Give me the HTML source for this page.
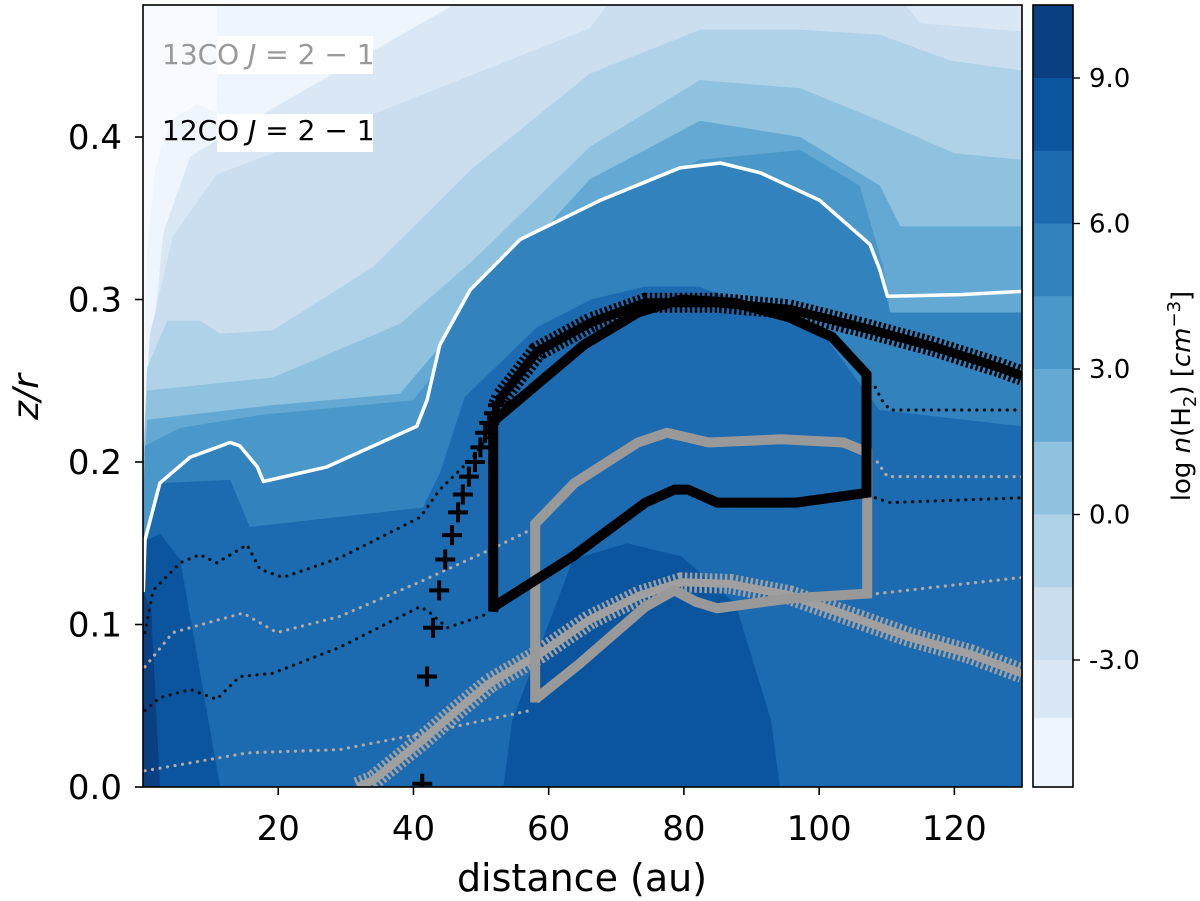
<!DOCTYPE html>
<html><head><meta charset="utf-8"><style>
html,body{margin:0;padding:0;background:#fff;}
svg{display:block;font-family:"DejaVu Sans","Liberation Sans",sans-serif;}
</style></head><body>
<svg id="chart" width="1200" height="901" viewBox="0 0 1200 901">
<defs><clipPath id="pc"><rect x="143" y="5" width="879" height="782"/></clipPath></defs>
<g id="bands" clip-path="url(#pc)"></g>
<g id="lines" clip-path="url(#pc)"></g>
<rect x="143" y="5" width="879" height="782" fill="none" stroke="#000" stroke-width="1.6"/>
<g id="axes"></g>
<rect x="217" y="36" width="156" height="38" fill="#fff"/>
<rect x="217" y="114" width="156" height="38" fill="#fff"/>
<text x="162" y="64" font-size="28" fill="#999">13CO <tspan font-style="italic">J</tspan> = 2 − 1</text>
<text x="162" y="140" font-size="28" fill="#000">12CO <tspan font-style="italic">J</tspan> = 2 − 1</text>
<text x="582" y="891" font-size="38" text-anchor="middle">distance (au)</text>
<text transform="translate(38,397) rotate(-90)" font-size="36" text-anchor="middle" font-style="italic">z/r</text>
<g id="cbar"></g>
<text transform="translate(1190,396) rotate(-90)" font-size="26" text-anchor="middle">log <tspan font-style="italic">n</tspan>(H<tspan font-size="18" dy="6">2</tspan><tspan dy="-6">) [</tspan><tspan font-style="italic">cm</tspan><tspan font-size="18" dy="-10">−3</tspan><tspan dy="10">]</tspan></text>
</svg>
<script>
// ---- data (au, z/r) ----
const xTicks=[20,40,60,80,100,120];
const yTicks=[0.0,0.1,0.2,0.3,0.4];
const cbTicks=[9.0,6.0,3.0,0.0,-3.0];
const cbLevels=[10.5,9,7.5,6,4.5,3,1.5,0,-1.5,-3,-4.2,-5.6];
const bandColors=["#eef5fc","#dae8f6","#cadef0","#b0d2e8","#8fc2de","#64a9d3","#4a98c9","#3282be","#1c6ab0","#0b559f","#0a3f82"];
const level10=[[0,.2],[0.2,.24],[0.6,.33],[1.8,.38],[4.0,.41],[8,.42],[10.9,.415],[11.0,.6],[130,.6]];
const level9=[[0,.2],[0.6,.238],[3.0,.341],[7.0,.388],[10.9,.398],[45.4,.48],[50,.52],[130,.52]];
const level8=[[0,.2],[1.0,.278],[4.4,.339],[10.9,.377],[24.3,.398],[66.1,.467],[72,.5],[109,.5],[115,.47],[130,.465]];
const level7=[[0,.2],[0.6,.258],[3.6,.287],[8.4,.287],[11.4,.279],[19.2,.281],[34.0,.32],[48.8,.381],[66.1,.439],[82.4,.466],[97.2,.466],[109,.463],[119.4,.447],[130,.441]];
const level6=[[0,.2],[0.6,.244],[19.2,.252],[38.0,.285],[48.8,.324],[66.1,.394],[82.4,.435],[97.2,.43],[109,.41],[120,.39],[130,.386]];
const level5=[[0,.18],[0.6,.226],[19.2,.235],[38.0,.242],[48.8,.295],[66.1,.374],[82.4,.41],[97.2,.40],[109,.37],[112,.345],[130,.345]];
const level4=[[0,.17],[0.3,.21],[5.5,.221],[17.3,.229],[39.9,.238],[48.4,.281],[66.1,.352],[82.4,.386],[97.2,.392],[106,.37],[109.5,.32],[110.5,.292],[130,.292]];
const whiteLine=[[0.05,.12],[0.3,.152],[2.5,.187],[7.0,.203],[12.9,.212],[14.3,.21],[16.9,.197],[17.8,.188],[27.2,.197],[40.5,.222],[42.0,.238],[43.9,.272],[48.4,.306],[55.8,.337],[67.6,.361],[79.4,.381],[85.4,.384],[91.3,.378],[100.1,.361],[107.5,.334],[109.0,.318],[110.1,.302],[120.9,.303],[130,.305]];
const level3=[[0,.11],[0.3,.152],[2.5,.187],[7.0,.203],[12.9,.212],[14.3,.21],[16.9,.197],[17.8,.188],[27.2,.197],[40.5,.222],[42.0,.238],[43.9,.272],[48.4,.306],[55.8,.337],[67.6,.361],[79.4,.381],[85.4,.384],[91.3,.378],[100.1,.361],[107.5,.334],[109.0,.318],[110.5,.292],[130,.292]];
const level2=[[0,.12],[0.6,.156],[2.5,.187],[12.9,.189],[15.8,.16],[41.4,.172],[43.9,.193],[47.6,.24],[58.3,.283],[66.3,.30],[74.3,.308],[82.2,.308],[90.2,.295],[100.9,.277],[108.9,.232],[130,.222]];
const lobeLeft=[[0,0],[0,.152],[0.6,.152],[2.5,.156],[5.5,.14],[11.4,0]];
const lobeRight=[[53.3,0],[54.6,.041],[63.6,.14],[71.6,.15],[79.6,.142],[87.6,.113],[92.9,.041],[94.2,0]];
const lobeDark=[[0,0],[0,.12],[1.2,.11],[2.5,0]];
const box12=[[51.8,.108],[51.8,.225],[65.2,.272],[73.2,.292],[79.6,.300],[87.6,.298],[95.6,.289],[101.9,.277],[107.0,.254],[107.0,.181],[96.6,.175],[84.9,.175],[80.6,.183],[78.6,.183],[74.3,.175],[63.6,.142],[51.9,.111]];
const box13=[[58.0,.052],[58.0,.162],[63.8,.187],[73.2,.212],[77.5,.218],[80.6,.215],[83.7,.212],[94.4,.214],[103.6,.212],[107.1,.206],[107.1,.119],[95.6,.116],[84.9,.110],[81.8,.114],[78.6,.121],[74.3,.111],[64.6,.076],[58.0,.054]];
const plus12Sparse=[[41.3,.002],[42.0,.068],[42.9,.098],[43.8,.121],[44.7,.140],[45.7,.155],[46.6,.169],[47.3,.18],[48.2,.191],[49.1,.2],[49.9,.209],[50.6,.218],[51.2,.224],[51.9,.23],[52.5,.235]];
const plus12Band=[[52.5,.235],[53.0,.24],[58.3,.268],[66.3,.286],[74.3,.298],[84.9,.298],[95.6,.294],[106.2,.283],[116.9,.271],[126.8,.258],[130,.253]];
const plus13Band=[[31.7,0],[34.0,.004],[41.4,.029],[46.4,.047],[51.3,.064],[58.7,.082],[66.1,.103],[73.5,.118],[79.6,.126],[86.8,.125],[95.7,.118],[104.6,.105],[113.5,.092],[122.2,.082],[130,.07]];
const dot12a=[[0.3,.095],[1.5,.121],[5.5,.138],[8.4,.143],[10.9,.138],[15.4,.149],[17.3,.134],[20.7,.129],[29.1,.141],[41.0,.166],[43.9,.183],[48.8,.203],[51.8,.22]];
const dot12aR=[[108.3,.246],[109.3,.238],[110.5,.232],[130,.232]];
const dot12b=[[0.3,.047],[2.5,.055],[7.0,.06],[10.9,.054],[14.3,.068],[19.2,.07],[29.1,.086],[41.0,.111],[42.5,.107],[45.0,.098],[51.3,.107]];
const dot12bR=[[108.3,.178],[110.5,.175],[130,.178]];
const dot13a=[[0.3,.074],[4.4,.095],[9.5,.101],[14.8,.107],[19.8,.095],[29.1,.105],[41.4,.127],[51.3,.146],[57.2,.158]];
const dot13aR=[[108.6,.2],[110.1,.191],[130,.191]];
const dot13b=[[0.3,.01],[15.4,.021],[29.1,.023],[41.4,.033],[57.2,.047]];
const dot13bR=[[108.6,.119],[130,.129]];

// ---- scales ----
const X=a=>143+a*6.7615, Y=z=>787-z*1625, CY=v=>78+(9-v)*48.5;
const NS="http://www.w3.org/2000/svg";
function mk(tag,attrs,parent){const e=document.createElementNS(NS,tag);for(const k in attrs)e.setAttribute(k,attrs[k]);parent.appendChild(e);return e;}
const pts=arr=>arr.map(p=>X(p[0]).toFixed(1)+","+Y(p[1]).toFixed(1)).join(" ");
const below=arr=>pts(arr)+" "+X(130)+","+Y(-0.01)+" "+X(0)+","+Y(-0.01);
const bands=document.getElementById("bands"), lines=document.getElementById("lines"), axes=document.getElementById("axes");

let e=mk("rect",{x:143,y:5,width:879,height:782,fill:"#f7fbff"},bands);


const levelCurves=[level10,level9,level8,level7,level6,level5,level4,level3,level2];
levelCurves.forEach((c,i)=>{
  const p=mk("polygon",{points:below(c),fill:bandColors[i]},bands);
  
  
});
[[lobeLeft,9],[lobeRight,9],[lobeDark,10]].forEach(([c,ci],i)=>{
  const p=mk("polygon",{points:pts(c),fill:bandColors[ci]},bands);
  
  
});

[[dot12a,"#111"],[dot12aR,"#111"],[dot12b,"#111"],[dot12bR,"#111"],[dot13a,"#b3aaa2"],[dot13aR,"#b3aaa2"],[dot13b,"#b3aaa2"],[dot13bR,"#b3aaa2"]].forEach(([c,col],i)=>{
  const p=mk("polyline",{points:pts(c),fill:"none",stroke:col,"stroke-width":3.2,"stroke-dasharray":"0.1 7.5","stroke-linecap":"round"},lines);
  
  
});
e=mk("polyline",{points:pts(whiteLine),fill:"none",stroke:"#fff","stroke-width":3.5,"stroke-linejoin":"round"},lines);


e=mk("polyline",{points:pts(plus13Band),fill:"none",stroke:"#a0a0a0","stroke-width":20,"stroke-dasharray":"2.5 2.5"},lines);


e=mk("polyline",{points:pts(plus13Band),fill:"none",stroke:"#a0a0a0","stroke-width":8},lines);


e=mk("polygon",{points:pts(box13),fill:"none",stroke:"#999","stroke-width":10,"stroke-linejoin":"miter"},lines);


e=mk("polyline",{points:pts(plus12Band),fill:"none",stroke:"#000","stroke-width":20,"stroke-dasharray":"2.5 2.5"},lines);


e=mk("polyline",{points:pts(plus12Band),fill:"none",stroke:"#000","stroke-width":9},lines);


plus12Sparse.forEach(p=>{
  const x=X(p[0]),y=Y(p[1]);
  const m=mk("path",{d:`M${x-10},${y}H${x+10}M${x},${y-10}V${y+10}`,stroke:"#000","stroke-width":4,fill:"none"},lines);
  
  
});
e=mk("polygon",{points:pts(box12),fill:"none",stroke:"#000","stroke-width":10,"stroke-linejoin":"miter"},lines);



xTicks.forEach(v=>{
  const t=mk("line",{x1:X(v),x2:X(v),y1:787,y2:795,stroke:"#000","stroke-width":1.6},axes);
  
  
  const l=mk("text",{x:X(v),y:840,"font-size":34,"text-anchor":"middle"},axes);
  l.textContent=v;
  
  
});
yTicks.forEach(v=>{
  const t=mk("line",{x1:135,x2:143,y1:Y(v),y2:Y(v),stroke:"#000","stroke-width":1.6},axes);
  
  
  const l=mk("text",{x:122,y:Y(v)+12,"font-size":34,"text-anchor":"end"},axes);
  l.textContent=v.toFixed(1);
  
  
});
const cb=document.getElementById("cbar");
for(let i=0;i<cbLevels.length-1;i++){
  const y1=Math.max(5,CY(cbLevels[i])), y2=Math.min(787,CY(cbLevels[i+1]));
  const r=mk("rect",{x:1033,y:y1,width:40,height:y2-y1+0.5,fill:bandColors[10-i]},cb);
  
  
}
e=mk("rect",{x:1033,y:5,width:40,height:782,fill:"none",stroke:"#000","stroke-width":1.6},cb);


cbTicks.forEach(v=>{
  const t=mk("line",{x1:1073,x2:1080,y1:CY(v),y2:CY(v),stroke:"#000","stroke-width":1.4},cb);
  
  
  const l=mk("text",{x:1089,y:CY(v)+9,"font-size":26},cb);
  l.textContent=v.toFixed(1);
  
  
});
</script>
</body></html>
